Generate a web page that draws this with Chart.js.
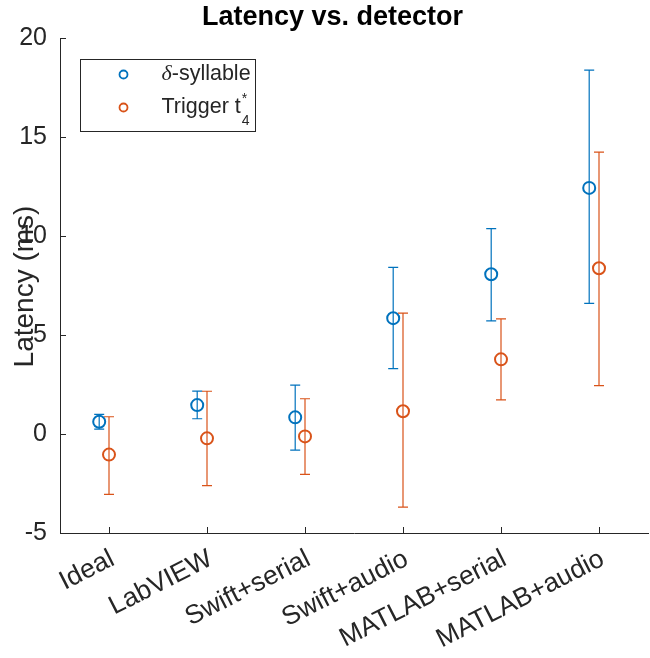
<!DOCTYPE html>
<html><head><meta charset="utf-8">
<script src="https://cdn.jsdelivr.net/npm/chart.js@4/dist/chart.umd.min.js"></script>
<style>html,body{margin:0;padding:0;background:#fff}#wrap{width:650px;height:658px;position:relative}</style>
</head><body><div id="wrap"><canvas id="c" width="650" height="658"></canvas></div>
<script>
const categories = ['Ideal', 'LabVIEW', 'Swift+serial', 'Swift+audio', 'MATLAB+serial', 'MATLAB+audio'];
const syllableMean = [0.62, 1.46, 0.84, 5.85, 8.07, 12.43];
const syllableLow  = [0.25, 0.77, -0.81, 3.30, 5.71, 6.60];
const syllableHigh = [0.99, 2.17, 2.47, 8.42, 10.37, 18.38];
const triggerMean  = [-1.04, -0.22, -0.12, 1.15, 3.77, 8.37];
const triggerLow   = [-3.05, -2.61, -2.04, -3.69, 1.72, 2.44];
const triggerHigh  = [0.87, 2.16, 1.78, 6.10, 5.81, 14.24];
const yTicks = [-5, 0, 5, 10, 15, 20];
const titleText = 'Latency vs. detector';
const yLabelText = 'Latency (ms)';

const BLUE = '#0072BD', ORANGE = '#D95319', AX = '#262626';
const FONT = '"Liberation Sans", Arial, Helvetica, sans-serif';

const errorBars = {
  id: 'errorBars',
  afterDatasetsDraw(chart) {
    const ctx = chart.ctx, ys = chart.scales.y;
    chart.data.datasets.forEach((ds, di) => {
      const meta = chart.getDatasetMeta(di);
      ctx.save();
      ctx.strokeStyle = ds.borderColor;
      ctx.lineWidth = 1.2;
      meta.data.forEach((pt, i) => {
        const x = pt.x;
        const yl = ys.getPixelForValue(ds.errLow[i]);
        const yh = ys.getPixelForValue(ds.errHigh[i]);
        ctx.beginPath();
        ctx.moveTo(x, yl); ctx.lineTo(x, yh);
        ctx.moveTo(x - 5, yl); ctx.lineTo(x + 5, yl);
        ctx.moveTo(x - 5, yh); ctx.lineTo(x + 5, yh);
        ctx.stroke();
      });
      ctx.restore();
    });
  }
};

const decorations = {
  id: 'decorations',
  afterDraw(chart) {
    const ctx = chart.ctx, xs = chart.scales.x, ys = chart.scales.y, ca = chart.chartArea;
    ctx.save();
    // inward ticks
    ctx.strokeStyle = AX; ctx.lineWidth = 1;
    ctx.beginPath();
    yTicks.forEach(v => { const p = Math.round(ys.getPixelForValue(v)) + 0.5; ctx.moveTo(ca.left, p); ctx.lineTo(ca.left + 6, p); });
    categories.forEach((c, i) => { const p = Math.round(xs.getPixelForValue(i + 1)) + 0.5; ctx.moveTo(p, ca.bottom); ctx.lineTo(p, ca.bottom - 6); });
    ctx.stroke();
    // rotated category labels
    ctx.fillStyle = AX;
    ctx.font = '26.5px ' + FONT;
    ctx.textAlign = 'right'; ctx.textBaseline = 'alphabetic';
    categories.forEach((c, i) => {
      const p = xs.getPixelForValue(i + 1);
      ctx.save();
      ctx.translate(p + 7, ca.bottom + 31);
      ctx.rotate(-27 * Math.PI / 180);
      ctx.fillText(c, 0, 0);
      ctx.restore();
    });
    // title
    ctx.fillStyle = '#000';
    ctx.font = 'bold 27px ' + FONT;
    ctx.textAlign = 'center'; ctx.textBaseline = 'alphabetic';
    ctx.fillText(titleText, 332.5, 25);
    // y label
    ctx.save();
    ctx.translate(33, (ca.top + ca.bottom) / 2 + 1);
    ctx.rotate(-Math.PI / 2);
    ctx.fillStyle = AX;
    ctx.font = '28px ' + FONT;
    ctx.textAlign = 'center';
    ctx.fillText(yLabelText, 0, 0);
    ctx.restore();
    // legend
    const lx = 80.5, ly = 59.5, lw = 175, lh = 72;
    ctx.fillStyle = '#fff'; ctx.fillRect(lx, ly, lw, lh);
    ctx.strokeStyle = AX; ctx.lineWidth = 1; ctx.strokeRect(lx, ly, lw, lh);
    const ds = chart.data.datasets;
    ctx.lineWidth = 1.8;
    ctx.strokeStyle = ds[0].borderColor; ctx.beginPath(); ctx.arc(123.5, 74.5, 4, 0, Math.PI * 2); ctx.stroke();
    ctx.strokeStyle = ds[1].borderColor; ctx.beginPath(); ctx.arc(123.5, 107.5, 4, 0, Math.PI * 2); ctx.stroke();
    ctx.fillStyle = AX; ctx.textAlign = 'left';
    ctx.font = 'italic 22px "Liberation Serif", serif';
    ctx.fillText('δ', 161.5, 80);
    let w = ctx.measureText('δ').width;
    ctx.font = '21.5px ' + FONT;
    ctx.fillText('-syllable', 161.5 + w, 80);
    ctx.fillText('Trigger t', 161.5, 113);
    w = ctx.measureText('Trigger t').width;
    ctx.font = '14px ' + FONT;
    ctx.fillText('*', 161.5 + w + 1, 103);
    ctx.fillText('4', 161.5 + w + 1, 124.5);
    ctx.restore();
  }
};

const ctx = document.getElementById('c').getContext('2d');
new Chart(ctx, {
  type: 'scatter',
  data: {
    datasets: [
      {
        label: 'δ-syllable',
        data: categories.map((c, i) => ({ x: i + 1 - 0.1, y: syllableMean[i] })),
        errLow: syllableLow, errHigh: syllableHigh,
        borderColor: BLUE, backgroundColor: 'rgba(0,0,0,0)',
        pointRadius: 6, pointBorderWidth: 2, pointHoverRadius: 6
      },
      {
        label: 'Trigger t*4',
        data: categories.map((c, i) => ({ x: i + 1, y: triggerMean[i] })),
        errLow: triggerLow, errHigh: triggerHigh,
        borderColor: ORANGE, backgroundColor: 'rgba(0,0,0,0)',
        pointRadius: 6, pointBorderWidth: 2, pointHoverRadius: 6
      }
    ]
  },
  options: {
    responsive: false,
    animation: false,
    devicePixelRatio: 1,
    layout: { autoPadding: false, padding: { top: 38, right: 2, left: 0, bottom: 0 } },
    plugins: { legend: { display: false }, title: { display: false }, tooltip: { enabled: false } },
    scales: {
      x: {
        type: 'linear', min: 0.5, max: 6.5,
        afterBuildTicks: s => { s.ticks = categories.map((c, i) => ({ value: i + 1 })); },
        afterFit: s => { s.height = 125; s.paddingLeft = 0; s.paddingRight = 0; },
        grid: { display: true, drawOnChartArea: false, drawTicks: false },
        border: { display: true, color: AX, width: 1 },
        ticks: { display: false, autoSkip: false }
      },
      y: {
        type: 'linear', min: -5, max: 20,
        afterBuildTicks: s => { s.ticks = yTicks.map(v => ({ value: v })); },
        afterFit: s => { s.width = 60; },
        grid: { display: true, drawOnChartArea: false, drawTicks: false },
        border: { display: true, color: AX, width: 1 },
        ticks: { autoSkip: false, padding: 13, color: AX, font: { family: FONT, size: 25 } }
      }
    }
  },
  plugins: [errorBars, decorations]
});
</script>
</body></html>
